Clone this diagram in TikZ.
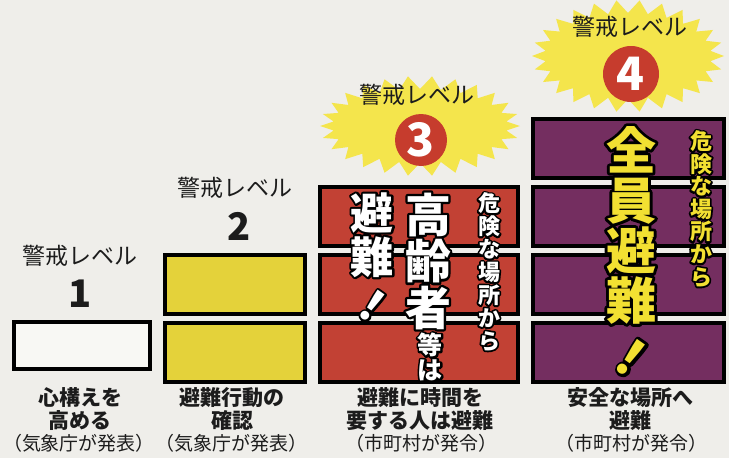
\documentclass[tikz,border=0pt]{standalone}
\usepackage{fontspec}
\newfontfamily\jp{Noto Sans CJK JP}
\newfontfamily\jpoS{Noto Sans CJK JP}[FakeBold=16, BoldFeatures={FakeBold=16}]
\newfontfamily\jpoM{Noto Sans CJK JP}[FakeBold=10, BoldFeatures={FakeBold=10}]
\newfontfamily\jpoL{Noto Sans CJK JP}[FakeBold=11.5, BoldFeatures={FakeBold=11.5}]
\definecolor{paper}{HTML}{EFEEEA}
\definecolor{boxwhite}{HTML}{F8F8F4}
\definecolor{boxyellow}{HTML}{E4D23A}
\definecolor{boxred}{HTML}{C24134}
\definecolor{boxpurple}{HTML}{742E60}
\definecolor{staryellow}{HTML}{F4E54C}
\definecolor{circred}{HTML}{C63C2D}
\definecolor{txtyellow}{HTML}{F2E032}
\definecolor{ink}{HTML}{1C1C1C}
% outlined text: name, position, fill colour, size command, text, outline family
\newcommand\outl[6]{%
  \node[font={#6\bfseries#4}, text=black, align=center, inner sep=0, line join=round] at (#2) {#5};
  \node[font={\jp\bfseries#4}, text=#3, align=center, inner sep=0] (#1) at (#2) {#5};
}
\newcommand\slbang{\rotatebox[origin=c]{-35}{！}}
% starburst: cx, cy, rx, ry, depth, points
\newcommand\burst[6]{%
  \fill[staryellow] ({#1+#3},{#2})
    \foreach \i in {1,...,#6} {
      -- ({#1+(#3-#5*mod(\i,2))*cos(\i/#6*360)},{#2+(#4-#5*mod(\i,2))*sin(\i/#6*360)})
    } -- cycle;
}
\begin{document}
\begin{tikzpicture}[x=1pt,y=-1pt,
  bx/.style={draw=black, line width=4pt, inner sep=0, minimum width=#1},
  bx/.default=140,
  lvtitle/.style={font={\jp\fontsize{23}{23}\selectfont}, text=ink, inner sep=0},
  lvnum/.style={font={\jp\bfseries\fontsize{38}{38}\selectfont}, text=ink, inner sep=0},
  cnum/.style={circle, fill=circred, minimum size=#1, inner sep=0, text=white,
     font={\jp\bfseries\fontsize{46}{46}\selectfont}},
  capline/.style={font={\jp\bfseries\fontsize{21}{21}\selectfont}, text=ink, inner sep=0},
  capsub/.style={font={\jp\fontsize{19}{19}\selectfont}, text=ink, inner sep=0}]
\useasboundingbox (0,0) rectangle (729,458);
\fill[paper] (0,0) rectangle (729,458);

% ---------- level 1
\node[lvtitle] (t1) at (80,256) {警戒レベル};
\node[lvnum] (n1) at (80,294) {1};
\node[bx=136, minimum height=47, fill=boxwhite] (b1a) at (82,345.5) {};
\node[capline] (c1a) at (80,398) {心構えを};
\node[capline] (c1b) at (80,421) {高める};
\node[capsub] (c1c) at (79,443) {（気象庁が発表）};

% ---------- level 2
\node[lvtitle] (t2) at (235,188) {警戒レベル};
\node[lvnum] (n2) at (239,226) {2};
\node[bx=140, minimum height=59, fill=boxyellow] (b2a) at (235,284.5) {};
\node[bx=140, minimum height=59, fill=boxyellow] (b2b) at (235,352.5) {};
\node[capline] (c2a) at (232,398) {避難行動の};
\node[capline] (c2b) at (232,421) {確認};
\node[capsub] (c2c) at (231,443) {（気象庁が発表）};

% ---------- level 3
\burst{420}{126}{100}{50}{13}{52}
\node[lvtitle] (t3) at (417,95) {警戒レベル};
\node[cnum=52] (n3) at (421,140) {3};
\node[bx=198, minimum height=59, fill=boxred] (b3a) at (419,216.5) {};
\node[bx=198, minimum height=59, fill=boxred] (b3b) at (419,284.5) {};
\node[bx=198, minimum height=59, fill=boxred] (b3c) at (419,352.5) {};
\outl{v3a}{489,272}{white}{\fontsize{22}{22.9}\selectfont}{危\\険\\な\\場\\所\\か\\ら}{\jpoS}
\outl{v3b}{428,261}{white}{\fontsize{46}{46.5}\selectfont}{高\\齢\\者}{\jpoM}
\outl{v3c}{430,357}{white}{\fontsize{25}{25}\selectfont}{等\\は}{\jpoS}
\outl{v3d}{372,262}{white}{\fontsize{43}{44}\selectfont}{避\\難\\[2pt]\slbang}{\jpoM}
\node[capline] (c3a) at (420,398) {避難に時間を};
\node[capline] (c3b) at (420,421) {要する人は避難};
\node[capsub] (c3c) at (421,443) {（市町村が発令）};

% ---------- level 4
\burst{628}{56}{96}{56}{13}{52}
\node[lvtitle] (t4) at (630,27) {警戒レベル};
\node[cnum=56] (n4) at (631,74) {4};
\node[bx=191, minimum height=59, fill=boxpurple] (b4a) at (628.5,148.5) {};
\node[bx=191, minimum height=59, fill=boxpurple] (b4b) at (628.5,216.5) {};
\node[bx=191, minimum height=59, fill=boxpurple] (b4c) at (628.5,284.5) {};
\node[bx=191, minimum height=59, fill=boxpurple] (b4d) at (628.5,352.5) {};
\outl{v4a}{701,209}{txtyellow}{\fontsize{22}{22.6}\selectfont}{危\\険\\な\\場\\所\\か\\ら}{\jpoS}
\outl{v4b}{631,257}{txtyellow}{\fontsize{50}{50}\selectfont}{全\\員\\避\\難\\[3pt]\slbang}{\jpoL}
\node[capline] (c4a) at (630,398) {安全な場所へ};
\node[capline] (c4b) at (630,421) {避難};
\node[capsub] (c4c) at (631,443) {（市町村が発令）};
\end{tikzpicture}
\end{document}
